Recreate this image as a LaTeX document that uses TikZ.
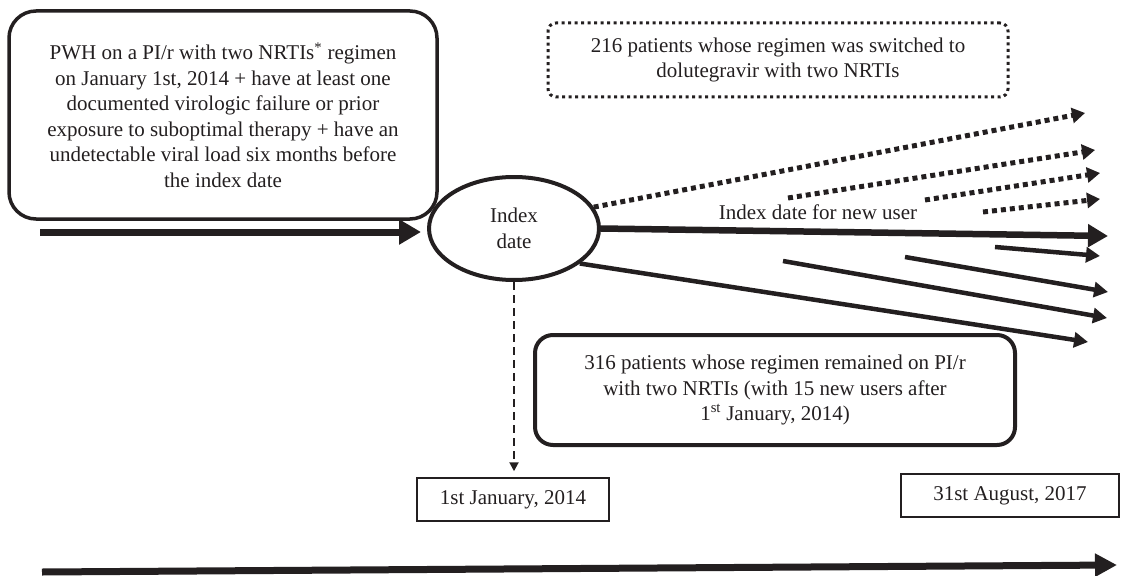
\documentclass[tikz,border=0pt]{standalone}
\usepackage{fontspec}
\setmainfont{Liberation Serif}
\usetikzlibrary{arrows.meta,shapes.geometric}
\definecolor{ink}{RGB}{35,31,32}
\begin{document}
\begin{tikzpicture}[x=1pt,y=-1pt,
  every node/.style={font=\fontsize{21}{25.5}\selectfont, text=ink, align=center, inner sep=0pt},
  bigbox/.style={draw=ink, line width=3.5pt, rounded corners=27pt, minimum width=428pt, minimum height=208pt},
  idxell/.style={ellipse, draw=ink, line width=4pt, minimum width=170pt, minimum height=103pt},
  dotbox/.style={draw=ink, line width=3pt, dash pattern=on 3pt off 3.5pt, rounded corners=8pt, minimum width=460pt, minimum height=74pt},
  rembox/.style={draw=ink, line width=4pt, rounded corners=18pt, minimum width=480pt, minimum height=110pt},
  datebox/.style={draw=ink, line width=1.5pt, minimum width=192pt, minimum height=43pt},
  dotarrow/.style={draw=ink, line width=5pt, dash pattern=on 5pt off 4pt, -{Triangle[length=13pt,width=15pt]}},
  mainarrow/.style={draw=ink, line width=6.5pt, -{Triangle[length=20pt,width=22pt]}},
  solidarrow/.style={draw=ink, line width=4.5pt, -{Triangle[length=14pt,width=15pt]}},
  dasharrow/.style={draw=ink, line width=2pt, dash pattern=on 8pt off 5pt, -{Triangle[length=9pt,width=9pt]}},
  inarrow/.style={draw=ink, line width=7pt, -{Triangle[length=22pt,width=24pt]}},
  timearrow/.style={draw=ink, line width=7pt, -{Triangle[length=22pt,width=22pt]}}
]
\useasboundingbox (0,0) rectangle (1123,575);

\node[bigbox] (big) at (223,115) {PWH on a PI/r with two NRTIs\textsuperscript{*} regimen\\ on January 1st, 2014 + have at least one\\ documented virologic failure or prior\\ exposure to suboptimal therapy + have an\\ undetectable viral load six months before\\ the index date};

\node[idxell] (idx) at (514,228.5) {Index\\date};

\node[dotbox] (sw) at (778,60) {216 patients whose regimen was switched to\\ dolutegravir with two NRTIs};

\node[rembox] (rem) at (775,390) {316 patients whose regimen remained on PI/r\\ with two NRTIs (with 15 new users after\\ 1\textsuperscript{st} January, 2014)};

\node[datebox] (d1) at (513,499.5) {1st January, 2014};
\node[datebox, minimum width=218pt] (d2) at (1010,495.5) {31st August, 2017};

\node (lbl) at (818,212) {Index date for new user};

\coordinate (inL) at (40,232);
\coordinate (e1) at (1085,113);
\coordinate (eT) at (1108,236);
\coordinate (e5) at (1088,342);
\coordinate (s2) at (788,198);  \coordinate (e2) at (1095,150);
\coordinate (s3) at (925,200);  \coordinate (e3) at (1100,173);
\coordinate (s4) at (983,212);  \coordinate (e4) at (1100,199);
\coordinate (s6) at (995,247);  \coordinate (e6) at (1100,256);
\coordinate (s7) at (905,257);  \coordinate (e7) at (1108,292);
\coordinate (s8) at (783,261);  \coordinate (e8) at (1107,318);
\coordinate (t0) at (42,572);   \coordinate (t1) at (1117,565);

\draw[inarrow, shorten >=6pt] (inL) -- (inL -| idx.west);

\draw[dotarrow] (idx.15) -- (e1);
\draw[dotarrow] (s2) -- (e2);
\draw[dotarrow] (s3) -- (e3);
\draw[dotarrow] (s4) -- (e4);

\draw[mainarrow] (idx.east) -- (eT);

\draw[solidarrow] (idx.-28) -- (e5);
\draw[solidarrow] (s6) -- (e6);
\draw[solidarrow] (s7) -- (e7);
\draw[solidarrow] (s8) -- (e8);

\draw[dasharrow, shorten >=6pt] (idx.south) -- (idx.south |- d1.north);

\draw[timearrow] (t0) -- (t1);
\end{tikzpicture}
\end{document}
